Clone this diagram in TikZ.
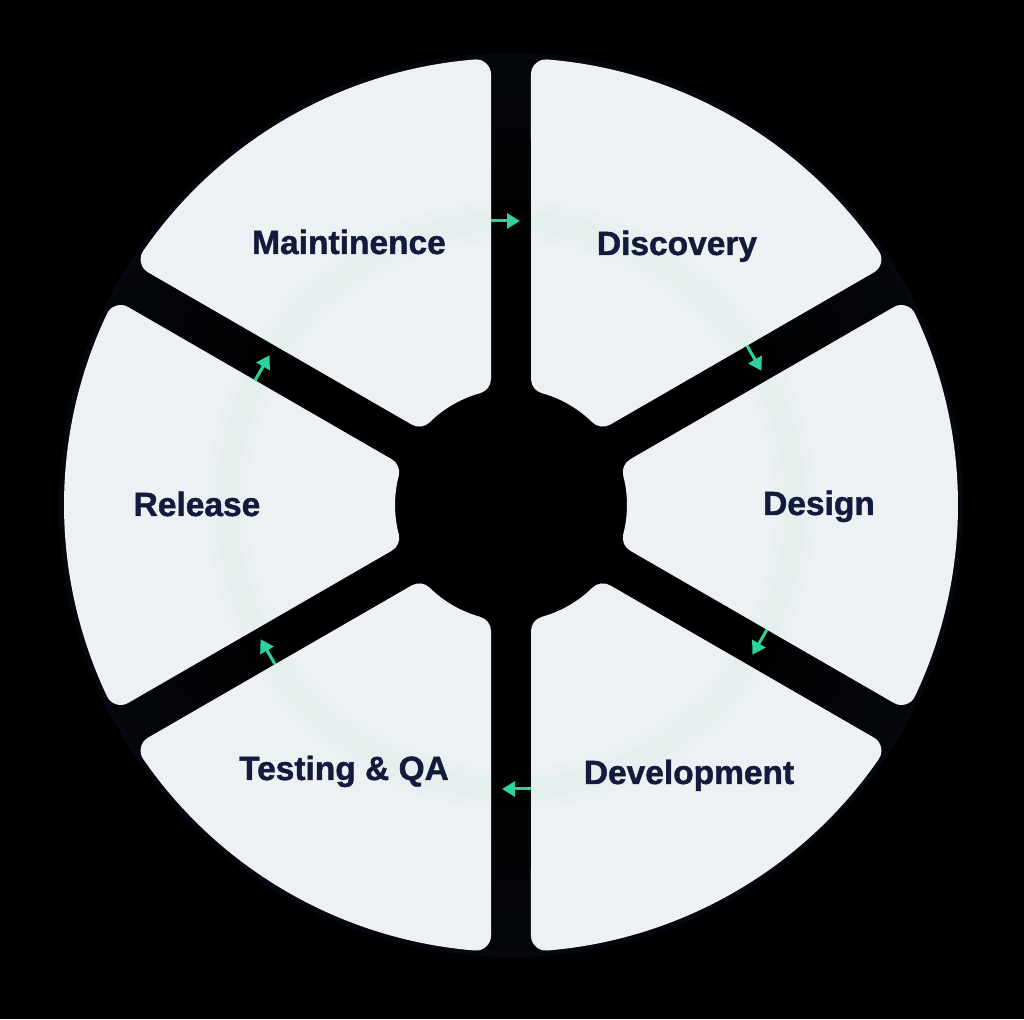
\documentclass[tikz,border=0pt]{standalone}
\usepackage{fontspec}
\setmainfont{Liberation Sans}
\newfontfamily\lblfont[FakeBold=1.3]{Liberation Sans Bold}
\usetikzlibrary{arrows.meta,calc}
\definecolor{segc}{HTML}{EEF1F3}
\definecolor{txtc}{HTML}{141A3C}
\definecolor{arrc}{HTML}{2BD3A0}
\definecolor{glA}{HTML}{04080E}
\definecolor{glB}{HTML}{0B1420}
\definecolor{ringc}{HTML}{CFF0E4}
\pgfdeclareradialshading{bgglow}{\pgfpoint{0bp}{0bp}}{color(0bp)=(black); color(14bp)=(black); color(30bp)=(glA); color(50bp)=(glB)}
\tikzset{
  segfill/.style={fill=segc, draw=segc, line width=30pt, line join=round},
  lbl/.style={font=\lblfont\fontsize{33.5}{33.5}\selectfont, text=txtc, inner sep=0pt, text height=24pt, text depth=0pt, anchor=center},
  arr/.style={draw=arrc, line width=3pt, -{Triangle[length=13pt,width=15pt]}, arrc},
}
\begin{document}
\begin{tikzpicture}[x=1pt,y=1pt]
\useasboundingbox (0,0) rectangle (1024,1019);
\fill[black] (0,0) rectangle (1024,1019);
\draw[glA, line width=6pt] (511,514) circle[radius=449pt];
\shade[shading=bgglow] (511,514) circle[radius=447pt];
\begin{scope}[shift={(511,514)}]
  \pgfmathsetmacro{\ao}{asin(35/432)}
  \pgfmathsetmacro{\ai}{asin(35/131)}
  \pgfmathsetmacro{\so}{asin(20/447)}
  \pgfmathsetmacro{\si}{asin(20/116)}
  \foreach \a in {30,-30,-90,-150,150,90}{
    \pgfmathsetmacro{\sa}{\a+\ao}
    \pgfmathsetmacro{\ea}{\a+60-\ao}
    \pgfmathsetmacro{\sb}{\a+60-\ai}
    \pgfmathsetmacro{\eb}{\a+\ai}
    \path[segfill] (\sa:432pt) arc[start angle=\sa, end angle=\ea, radius=432pt] -- (\sb:131pt) arc[start angle=\sb, end angle=\eb, radius=131pt] -- cycle;
    \pgfmathsetmacro{\sc}{\a+\so}
    \pgfmathsetmacro{\ec}{\a+60-\so}
    \pgfmathsetmacro{\sd}{\a+60-\si}
    \pgfmathsetmacro{\ed}{\a+\si}
    \begin{scope}
      \clip (\sc:447pt) arc[start angle=\sc, end angle=\ec, radius=447pt] -- (\sd:116pt) arc[start angle=\sd, end angle=\ed, radius=116pt] -- cycle;
      \draw[ringc, line width=40pt, opacity=0.12] (0,0) circle[radius=284pt];
      \draw[ringc, line width=22pt, opacity=0.18] (0,0) circle[radius=284pt];
    \end{scope}
  }
  % arrow end points
  \foreach \g/\n in {90/1,30/2,-30/3,-90/4,-150/5,150/6}{
    \coordinate (t\n) at ($(\g:284pt)+(\g-90:-20pt)$);
    \coordinate (h\n) at ($(\g:284pt)+(\g-90:9pt)$);
  }
\end{scope}
\draw[arr] (t1) -- (h1);
\draw[arr] (t2) -- (h2);
\draw[arr] (t3) -- (h3);
\draw[arr] (t4) -- (h4);
\draw[arr] (t5) -- (h5);
\draw[arr] (t6) -- (h6);
\node[lbl] (maint) at (349,777) {Maintinence};
\node[lbl] (disc) at (677,776) {Discovery};
\node[lbl] (des) at (819,516) {Design};
\node[lbl] (dev) at (689,247) {Development};
\node[lbl] (test) at (344,251) {Testing \& QA};
\node[lbl] (rel) at (197,515) {Release};
\end{tikzpicture}
\end{document}
